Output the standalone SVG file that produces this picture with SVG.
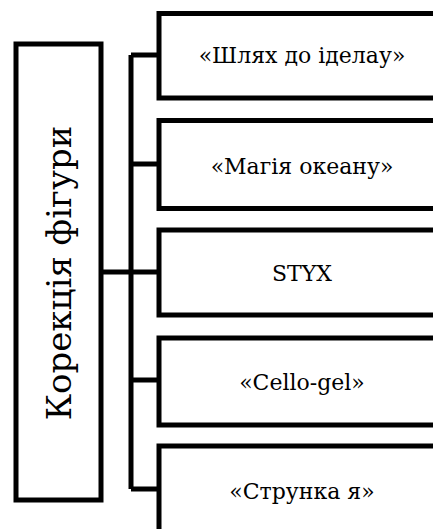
<svg xmlns="http://www.w3.org/2000/svg" width="433" height="529" viewBox="0 0 433 529">
<style>
.box{fill:#fff;stroke:#000;stroke-width:5}
.ln{fill:none;stroke:#000;stroke-width:5}
.t{font-family:"DejaVu Serif",serif;font-size:22px;fill:#000;text-anchor:middle}
.tv{font-family:"DejaVu Serif",serif;font-size:34px;fill:#000;text-anchor:middle}
</style>
<rect width="433" height="529" fill="#fff"/>
<g id="connectors">
<path class="ln" d="M101 272H131M131 55V489M131 55H159M131 164H159M131 272H159M131 380H159M131 489H159"/>
</g>
<g id="root">
<rect class="box" x="16" y="44" width="85" height="456"/>
<text class="tv" transform="translate(71 273) rotate(-90)">Корекція фігури</text>
</g>
<g id="n1">
<rect class="box" x="159" y="13.5" width="286" height="84.5"/>
<text class="t" x="302" y="63">«Шлях до іделау»</text>
</g>
<g id="n2">
<rect class="box" x="159" y="120.5" width="286" height="88"/>
<text class="t" x="302" y="174">«Магія океану»</text>
</g>
<g id="n3">
<rect class="box" x="159" y="230" width="286" height="85"/>
<text class="t" x="302" y="281">STYX</text>
</g>
<g id="n4">
<rect class="box" x="159" y="338" width="286" height="87"/>
<text class="t" x="302" y="390">«Cello-gel»</text>
</g>
<g id="n5">
<rect class="box" x="159" y="446" width="286" height="87"/>
<text class="t" x="302" y="499">«Струнка я»</text>
</g>
</svg>
